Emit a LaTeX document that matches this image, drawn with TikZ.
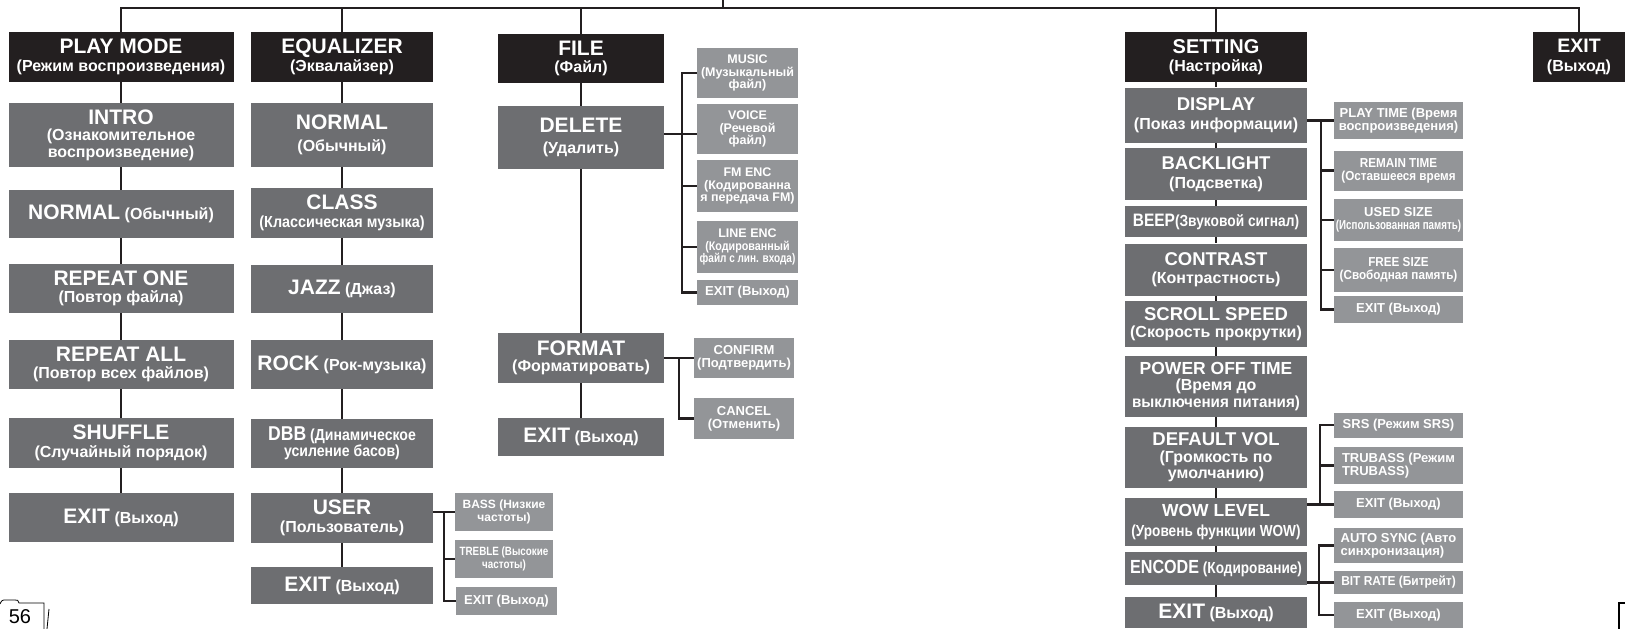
\documentclass[tikz,border=0pt]{standalone}
\usepackage{fontspec}
\setmainfont{Liberation Sans}
\usepackage{graphicx}
\usepackage{xcolor}
\definecolor{MenuTop}{HTML}{231F20}
\definecolor{MenuItem}{HTML}{6D6E71}
\definecolor{MenuSub}{HTML}{939598}
\definecolor{Wire}{HTML}{231F20}
\newcommand{\bigtxt}{\fontsize{21}{21}\selectfont}
\newcommand{\settxt}{\fontsize{18.5}{18.5}\selectfont}
\newcommand{\midtxt}{\fontsize{16}{16.5}\selectfont}
\newcommand{\smalltxt}{\fontsize{13}{13}\selectfont}
\newcommand{\squeeze}[2]{\scalebox{#1}[1]{#2}}

\begin{document}
\begin{tikzpicture}[x=1pt,y=-1pt,box/.style={rectangle,inner sep=0pt,align=center,text=white,font=\bfseries\midtxt},topmenu/.style={box,fill=MenuTop},menuitem/.style={box,fill=MenuItem},subitem/.style={box,fill=MenuSub,font=\bfseries\smalltxt},colpm/.style={minimum width=225},coleq/.style={minimum width=182},colfile/.style={minimum width=166},colset/.style={minimum width=182},sidesub/.style={subitem,minimum width=129},link/.style={draw=Wire,line width=2.2pt}]
\fill[white] (0,0) rectangle (1625,629);
\useasboundingbox (0,0) rectangle (1625,629);
% play mode
\node[topmenu,colpm,minimum height=50] (pm) at (121,57) {{\bigtxt PLAY MODE}\\[1pt](Режим воспроизведения)};
\node[menuitem,colpm,minimum height=64] (pmintro) at (121,135) {{\bigtxt INTRO}\\(Ознакомительное\\воспроизведение)};
\node[menuitem,colpm,minimum height=48] (pmnormal) at (121,214) {{\bigtxt NORMAL} (Обычный)};
\node[menuitem,colpm,minimum height=49] (pmone) at (121,288.5) {{\bigtxt REPEAT ONE}\\[1pt](Повтор файла)};
\node[menuitem,colpm,minimum height=49] (pmall) at (121,364.5) {{\bigtxt REPEAT ALL}\\[1pt](Повтор всех файлов)};
\node[menuitem,colpm,minimum height=50] (pmshuffle) at (121,443) {{\bigtxt SHUFFLE}\\[1pt](Случайный порядок)};
\node[menuitem,colpm,minimum height=49] (pmexit) at (121,517.5) {{\bigtxt EXIT} (Выход)};
% equalizer
\node[topmenu,coleq,minimum height=50] (eq) at (342,57) {{\bigtxt EQUALIZER}\\[1pt](Эквалайзер)};
\node[menuitem,coleq,minimum height=64] (eqnormal) at (342,135) {{\bigtxt NORMAL}\\[5pt](Обычный)};
\node[menuitem,coleq,minimum height=50] (eqclass) at (342,213) {{\bigtxt CLASS}\\[1pt]\squeeze{0.9}{(Классическая музыка)}};
\node[menuitem,coleq,minimum height=48] (eqjazz) at (342,289) {{\bigtxt JAZZ} (Джаз)};
\node[menuitem,coleq,minimum height=49] (eqrock) at (342,364.5) {{\bigtxt ROCK} (Рок-музыка)};
\node[menuitem,coleq,minimum height=49] (eqdbb) at (342,443.5) {\squeeze{0.88}{{\fontsize{20}{20}\selectfont DBB} (Динамическое}\\\squeeze{0.88}{усиление басов)}};
\node[menuitem,coleq,minimum height=50] (equser) at (342,518) {{\bigtxt USER}\\[1pt](Пользователь)};
\node[menuitem,coleq,minimum height=37] (eqexit) at (342,585.5) {{\bigtxt EXIT} (Выход)};
\node[subitem,font=\bfseries\fontsize{12}{12.5}\selectfont,minimum width=98,minimum height=38] (bass) at (504,512) {BASS (Низкие\\частоты)};
\node[subitem,font=\bfseries\fontsize{12}{12.5}\selectfont,minimum width=98,minimum height=38] (treble) at (504,559) {\squeeze{0.82}{TREBLE (Высокие}\\\squeeze{0.82}{частоты)}};
\node[subitem,minimum width=101,minimum height=28] (userexit) at (506.5,601) {EXIT (Выход)};
% file
\node[topmenu,colfile,minimum height=49] (file) at (581,58.5) {{\bigtxt FILE}\\[1pt](Файл)};
\node[menuitem,colfile,minimum height=63] (fdelete) at (581,137.5) {{\bigtxt DELETE}\\[5pt](Удалить)};
\node[menuitem,colfile,minimum height=50] (fformat) at (581,358) {{\bigtxt FORMAT}\\(Форматировать)};
\node[menuitem,colfile,minimum height=38] (fexit) at (581,437) {{\bigtxt EXIT} (Выход)};
\node[subitem,font=\bfseries\fontsize{12.5}{12.5}\selectfont,minimum width=101,minimum height=50] (music) at (747.5,73) {MUSIC\\(Музыкальный\\файл)};
\node[subitem,font=\bfseries\fontsize{12.5}{12.5}\selectfont,minimum width=101,minimum height=50] (voice) at (747.5,129) {VOICE\\(Речевой\\файл)};
\node[subitem,font=\bfseries\fontsize{12.5}{12.5}\selectfont,minimum width=101,minimum height=52] (fmenc) at (747.5,186) {FM ENC\\(Кодированна\\я передача FM)};
\node[subitem,font=\bfseries\fontsize{12.5}{12.5}\selectfont,minimum width=101,minimum height=52] (lineenc) at (747.5,247) {LINE ENC\\\squeeze{0.86}{(Кодированный}\\\squeeze{0.8}{файл с лин. входа)}};
\node[subitem,minimum width=101,minimum height=25] (delexit) at (747.5,292.5) {EXIT (Выход)};
\node[subitem,minimum width=100,minimum height=40] (confirm) at (744,358) {CONFIRM\\(Подтвердить)};
\node[subitem,minimum width=100,minimum height=41] (cancel) at (744,418.5) {CANCEL\\(Отменить)};
% setting
\node[topmenu,colset,minimum height=50] (setting) at (1216,57) {{\fontsize{20}{20}\selectfont SETTING}\\[1pt](Настройка)};
\node[menuitem,colset,minimum height=55] (display) at (1216,115) {{\settxt DISPLAY}\\[2pt](Показ информации)};
\node[menuitem,colset,minimum height=52] (backlight) at (1216,174) {{\settxt BACKLIGHT}\\[2pt](Подсветка)};
\node[menuitem,colset,minimum height=31] (beep) at (1216,221.5) {\squeeze{0.86}{{\fontsize{18}{18}\selectfont BEEP}(Звуковой сигнал)}};
\node[menuitem,colset,minimum height=52] (contrast) at (1216,269.5) {{\settxt CONTRAST}\\[2pt](Контрастность)};
\node[menuitem,colset,minimum height=46] (scroll) at (1216,324) {{\settxt SCROLL SPEED}\\(Скорость прокрутки)};
\node[menuitem,colset,minimum height=61] (poweroff) at (1216,386.5) {{\fontsize{17.5}{17.5}\selectfont POWER OFF TIME}\\(Время до\\\squeeze{0.95}{выключения питания)}};
\node[menuitem,colset,minimum height=61] (defvol) at (1216,457.5) {{\settxt DEFAULT VOL}\\(Громкость по\\умолчанию)};
\node[menuitem,colset,minimum height=48] (wow) at (1216,522) {{\fontsize{17.5}{17.5}\selectfont WOW LEVEL}\\[4pt]\squeeze{0.85}{(Уровень функции WOW)}};
\node[menuitem,colset,minimum height=33] (encode) at (1216,568.5) {\squeeze{0.85}{{\fontsize{19}{19}\selectfont ENCODE} (Кодирование)}};
\node[menuitem,colset,minimum height=31] (setexit) at (1216,612.5) {{\bigtxt EXIT} (Выход)};
\node[sidesub,minimum height=37] (playtime) at (1398.5,120.5) {PLAY TIME (Время\\воспроизведения)};
\node[sidesub,minimum height=40] (remain) at (1398.5,170.5) {\squeeze{0.9}{REMAIN TIME}\\\squeeze{0.9}{(Оставшееся время}};
\node[sidesub,minimum height=42] (used) at (1398.5,220) {USED SIZE\\\squeeze{0.75}{(Использованная память)}};
\node[sidesub,minimum height=44] (free) at (1398.5,270) {\squeeze{0.9}{FREE SIZE}\\\squeeze{0.9}{(Свободная память)}};
\node[sidesub,minimum height=27] (dispexit) at (1398.5,309.5) {EXIT (Выход)};
\node[sidesub,minimum height=25] (srs) at (1398.5,425) {SRS (Режим SRS)};
\node[sidesub,minimum height=37,align=left] (trubass) at (1398.5,465.5) {TRUBASS (Режим\\TRUBASS)};
\node[sidesub,minimum height=27] (wowexit) at (1398.5,504.5) {EXIT (Выход)};
\node[sidesub,minimum height=35,align=left] (autosync) at (1398.5,545.5) {AUTO SYNC (Авто\\синхронизация)};
\node[sidesub,minimum height=23] (bitrate) at (1398.5,582.5) {\squeeze{0.92}{BIT RATE (Битрейт)}};
\node[sidesub,minimum height=26] (encexit) at (1398.5,615) {EXIT (Выход)};
% exit
\node[topmenu,minimum width=92,minimum height=50] (exitall) at (1579,57) {{\fontsize{19.5}{19.5}\selectfont EXIT}\\[2pt](Выход)};
% tree lines
\coordinate (root) at (723,0);
\coordinate (bus) at (723,8);
\draw[link] (root) -- (bus);
\draw[link] (pm.north) |- (bus) -| (exitall.north);
\foreach \n in {eq,file,setting} \draw[link] (\n.north) -- (\n.north |- bus);
\foreach \a/\b in {pm/pmintro,pmintro/pmnormal,pmnormal/pmone,pmone/pmall,pmall/pmshuffle,pmshuffle/pmexit,eq/eqnormal,eqnormal/eqclass,eqclass/eqjazz,eqjazz/eqrock,eqrock/eqdbb,eqdbb/equser,equser/eqexit,file/fdelete,fdelete/fformat,fformat/fexit,setting/display,display/backlight,backlight/beep,beep/contrast,contrast/scroll,scroll/poweroff,poweroff/defvol,defvol/wow,wow/encode,encode/setexit}
  \draw[link] (\a) -- (\b);
% side menus
\coordinate (userbus) at (444,512);
\draw[link] (equser.east |- bass.west) -- (bass.west);
\draw[link] (userbus) |- (userexit.west);
\draw[link] (treble.west -| userbus) -- (treble.west);
\coordinate (delbus) at (682,134);
\draw[link] (fdelete.east |- delbus) -- (delbus -| voice.west);
\draw[link] (music.west) -| (delbus |- delexit.west) -- (delexit.west);
\foreach \n in {fmenc,lineenc} \draw[link] (\n.west -| delbus) -- (\n.west);
\coordinate (fmtbus) at (679,358);
\draw[link] (fformat.east |- confirm.west) -- (confirm.west);
\draw[link] (fmtbus) |- (cancel.west);
\coordinate (dispbus) at (1321,120.5);
\draw[link] (display.east |- playtime.west) -- (playtime.west);
\draw[link] (dispbus) |- (dispexit.west);
\foreach \n in {remain,used,free} \draw[link] (\n.west -| dispbus) -- (\n.west);
\coordinate (wowbus) at (1320,504.5);
\draw[link] (wow.east |- wowexit.west) -- (wowexit.west);
\draw[link] (wowbus) |- (srs.west);
\draw[link] (trubass.west -| wowbus) -- (trubass.west);
\coordinate (encbus) at (1319,582.5);
\draw[link] (encode.east |- bitrate.west) -- (bitrate.west);
\draw[link] (autosync.west) -| (encbus |- encexit.west) -- (encexit.west);
% page marks
\node[font=\fontsize{20}{20}\selectfont,text=black] (pagenum) at (20,617) {56};
\draw[line width=0.8pt] (0,604) .. controls (2,600) .. (6,600) -- (15,600) .. controls (18,600) .. (19,603) -- (44,603) -- (44,629);
\draw[line width=0.8pt] (49,609) -- (47,629);
\draw[line width=1.2pt] (1625,603) -- (1619,603) -- (1619,629);
\end{tikzpicture}
\end{document}
